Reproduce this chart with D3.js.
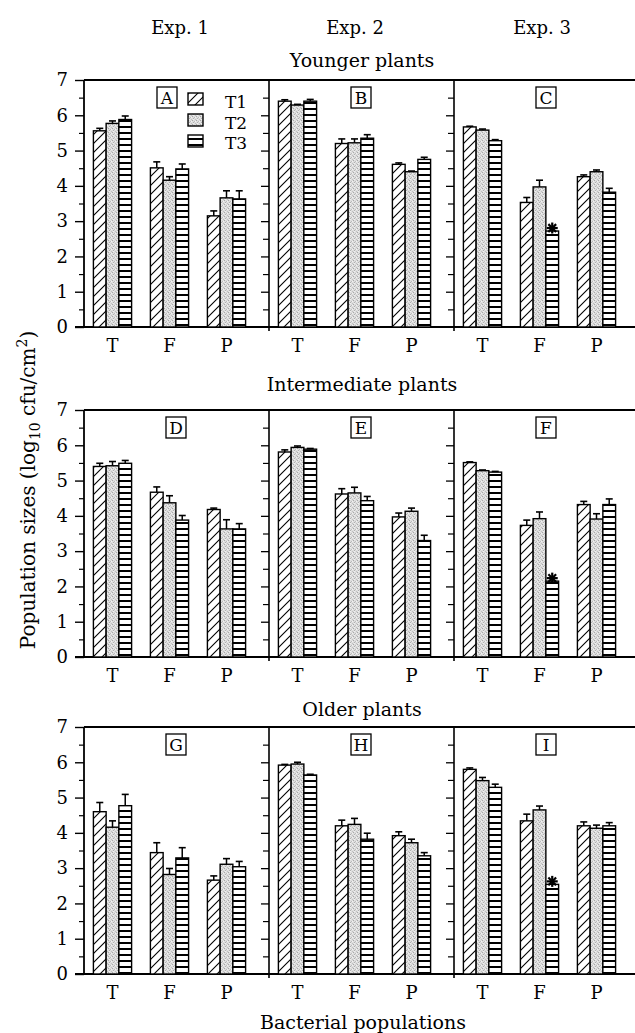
<!DOCTYPE html>
<html><head><meta charset="utf-8">
<script src="https://cdn.jsdelivr.net/npm/d3@7"></script>
<style>body{margin:0;background:#fff}svg{display:block}text{font-family:"DejaVu Serif",serif;fill:#000}</style>
</head><body><svg id="c" width="635" height="1033"></svg>
<script>
// ---------- data ----------
const experiments = ["Exp. 1", "Exp. 2", "Exp. 3"];
const plantAges = ["Younger plants", "Intermediate plants", "Older plants"];
const panelLetters = ["A","B","C","D","E","F","G","H","I"];
const populations = ["T", "F", "P"];
const treatments = ["T1", "T2", "T3"];
const yTickValues = [0,1,2,3,4,5,6,7];
const yMinorValues = [0.5,1.5,2.5,3.5,4.5,5.5,6.5];
// means: rows = populations T,F,P ; columns = treatments T1,T2,T3
const meansA = [[5.56,5.77,5.88],[4.51,4.16,4.48],[3.15,3.66,3.63]];
const meansB = [[6.40,6.29,6.40],[5.20,5.22,5.35],[4.61,4.40,4.75]];
const meansC = [[5.67,5.58,5.28],[3.53,3.97,2.72],[4.26,4.40,3.82]];
const meansD = [[5.40,5.42,5.49],[4.67,4.37,3.88],[4.18,3.63,3.63]];
const meansE = [[5.81,5.94,5.89],[4.62,4.65,4.43],[3.97,4.13,3.30]];
const meansF = [[5.51,5.28,5.24],[3.73,3.92,2.15],[4.32,3.91,4.32]];
const meansG = [[4.60,4.16,4.77],[3.44,2.82,3.29],[2.66,3.11,3.04]];
const meansH = [[5.92,5.95,5.64],[4.20,4.24,3.82],[3.92,3.72,3.35]];
const meansI = [[5.80,5.48,5.29],[4.34,4.65,2.54],[4.20,4.13,4.20]];
// standard errors
const errA = [[0.07,0.07,0.10],[0.17,0.10,0.14],[0.14,0.20,0.23]];
const errB = [[0.04,0.02,0.05],[0.13,0.11,0.10],[0.04,0.02,0.06]];
const errC = [[0.02,0.03,0.03],[0.14,0.19,0.05],[0.05,0.05,0.11]];
const errD = [[0.09,0.12,0.08],[0.15,0.20,0.13],[0.04,0.26,0.15]];
const errE = [[0.06,0.04,0.02],[0.15,0.16,0.12],[0.11,0.09,0.15]];
const errF = [[0.02,0.02,0.02],[0.15,0.19,0.05],[0.09,0.15,0.16]];
const errG = [[0.26,0.18,0.32],[0.28,0.17,0.29],[0.12,0.16,0.15]];
const errH = [[0.02,0.05,0.02],[0.16,0.17,0.17],[0.11,0.10,0.09]];
const errI = [[0.04,0.09,0.09],[0.19,0.11,0.05],[0.11,0.09,0.09]];
// significant differences (asterisk): panel, population, treatment
const significant = [["C","F","T3"],["F","F","T3"],["I","F","T3"]];

const allMeans = [meansA,meansB,meansC,meansD,meansE,meansF,meansG,meansH,meansI];
const allErr = [errA,errB,errC,errD,errE,errF,errG,errH,errI];

// ---------- layout ----------
const svg = d3.select("#c");
const panelLefts = [84, 269, 454];
const rowTops = [80, 410, 727];
const rowH = 247;

const defs = svg.append("defs");
// T1 diagonal hatch
const p1 = defs.append("pattern").attr("id","pT1").attr("patternUnits","userSpaceOnUse")
  .attr("width",9).attr("height",9);
p1.append("rect").attr("width",9).attr("height",9).attr("fill","#fff");
p1.append("path").attr("d","M-1,1 L1,-1 M0,9 L9,0 M8,10 L10,8").attr("stroke","#000").attr("stroke-width",1.1);
// T2 stipple
const p2 = defs.append("pattern").attr("id","pT2").attr("patternUnits","userSpaceOnUse")
  .attr("width",4).attr("height",4);
p2.append("rect").attr("width",4).attr("height",4).attr("fill","#dedede");
[[0,0,"#a8a8a8"],[2,1,"#bcbcbc"],[1,2,"#b0b0b0"],[3,3,"#c0c0c0"],[3,1,"#f2f2f2"],[1,3,"#f0f0f0"]].forEach(([x,y,c])=>
  p2.append("rect").attr("x",x).attr("y",y).attr("width",1).attr("height",1).attr("fill",c));
// T3 horizontal stripes
const p3 = defs.append("pattern").attr("id","pT3").attr("patternUnits","userSpaceOnUse")
  .attr("width",6).attr("height",6);
p3.append("rect").attr("width",6).attr("height",6).attr("fill","#fff");
p3.append("rect").attr("y",0).attr("width",6).attr("height",2).attr("fill","#000");
const fillOf = {T1:"url(#pT1)", T2:"url(#pT2)", T3:"url(#pT3)"};

// Experiment headers
const expX = [180, 355, 542];
experiments.forEach((e,i)=>svg.append("text").attr("x",expX[i]).attr("y",34)
  .attr("text-anchor","middle").attr("font-size",18).text(e));
// age titles
const ageY = [67, 391, 716];
plantAges.forEach((a,i)=>svg.append("text").attr("x",362).attr("y",ageY[i])
  .attr("text-anchor","middle").attr("font-size",19).text(a));

const xGroup = d3.scaleBand().domain(populations).range([0,171]).paddingInner(0.33).paddingOuter(0.165);
const xSub = d3.scaleBand().domain(treatments).range([0, xGroup.bandwidth()]);

rowTops.forEach((top, r) => {
  const y = d3.scaleLinear().domain([0,7]).range([top+rowH, top]);
  const g = svg.append("g");
  // left axis with labels
  const ax = g.append("g").attr("transform",`translate(${panelLefts[0]},0)`)
    .call(d3.axisLeft(y).tickValues(yTickValues).tickSize(9).tickPadding(7).tickFormat(d3.format("d")));
  ax.select(".domain").remove();
  ax.selectAll("text").attr("font-family","DejaVu Serif").attr("font-size",18).attr("fill","#000");
  ax.selectAll("line").attr("stroke","#000").attr("stroke-width",1.4);
  const axm = g.append("g").attr("transform",`translate(${panelLefts[0]},0)`)
    .call(d3.axisLeft(y).tickValues(yMinorValues).tickSize(5).tickFormat(""));
  axm.select(".domain").remove();
  axm.selectAll("line").attr("stroke","#000").attr("stroke-width",1.2);
  // inner boundaries with ticks pointing left
  [panelLefts[1], panelLefts[2]].forEach(bx => {
    const a1 = g.append("g").attr("transform",`translate(${bx},0)`)
      .call(d3.axisLeft(y).tickValues(yTickValues.slice(1,7)).tickSize(8).tickFormat(""));
    a1.select(".domain").remove();
    a1.selectAll("line").attr("stroke","#000").attr("stroke-width",1.3);
    const a2 = g.append("g").attr("transform",`translate(${bx},0)`)
      .call(d3.axisLeft(y).tickValues(yMinorValues).tickSize(6).tickFormat(""));
    a2.select(".domain").remove();
    a2.selectAll("line").attr("stroke","#000").attr("stroke-width",1.2);
    g.append("line").attr("x1",bx).attr("x2",bx).attr("y1",y(7)).attr("y2",y(0)+4)
      .attr("stroke","#000").attr("stroke-width",1.6);
  });
  // frame lines
  g.append("line").attr("x1",panelLefts[0]).attr("x2",panelLefts[0]).attr("y1",y(7)).attr("y2",y(0))
    .attr("stroke","#000").attr("stroke-width",1.8);
  g.append("line").attr("x1",panelLefts[0]).attr("x2",635).attr("y1",y(7)).attr("y2",y(7))
    .attr("stroke","#000").attr("stroke-width",1.8);
  g.append("line").attr("x1",panelLefts[0]-9).attr("x2",635).attr("y1",y(0)).attr("y2",y(0))
    .attr("stroke","#000").attr("stroke-width",1.8);

  panelLefts.forEach((px, c) => {
    const idx = r*3 + c;
    const letter = panelLetters[idx];
    const means = allMeans[idx], errs = allErr[idx];
    const pg = g.append("g").attr("transform",`translate(${px},0)`);
    // x labels
    populations.forEach(pop => pg.append("text").attr("x", xGroup(pop)+xGroup.bandwidth()/2)
      .attr("y", y(0)+25).attr("text-anchor","middle").attr("font-size",18).text(pop));
    // bars
    populations.forEach((pop, pi) => {
      treatments.forEach((tr, ti) => {
        const v = means[pi][ti], e = errs[pi][ti];
        const bx = xGroup(pop) + xSub(tr), bw = xSub.bandwidth();
        pg.append("rect").attr("x",bx).attr("y",y(v)).attr("width",bw).attr("height",y(0)-y(v))
          .attr("fill",fillOf[tr]).attr("stroke","#000").attr("stroke-width",1.4);
        const cx = bx + bw/2;
        const isSig = significant.some(s => s[0]===letter && s[1]===pop && s[2]===tr);
        if (isSig) {
          const cy = y(v) - 3, rr = 5.5;
          [0,45,90,135].forEach(deg => {
            const a = deg*Math.PI/180;
            pg.append("line").attr("x1",cx-rr*Math.cos(a)).attr("y1",cy-rr*Math.sin(a))
              .attr("x2",cx+rr*Math.cos(a)).attr("y2",cy+rr*Math.sin(a))
              .attr("stroke","#000").attr("stroke-width",2.2);
          });
        } else {
          pg.append("line").attr("x1",cx).attr("x2",cx).attr("y1",y(v)).attr("y2",y(v+e))
            .attr("stroke","#000").attr("stroke-width",1.5);
          pg.append("line").attr("x1",cx-3.5).attr("x2",cx+3.5).attr("y1",y(v+e)).attr("y2",y(v+e))
            .attr("stroke","#000").attr("stroke-width",1.6);
        }
      });
    });
    // panel letter box
    const bcx = (idx===0) ? 83 : 92;
    pg.append("rect").attr("x",bcx-10).attr("y",top+7).attr("width",20).attr("height",21)
      .attr("fill","#fff").attr("stroke","#000").attr("stroke-width",1.3);
    pg.append("text").attr("x",bcx).attr("y",top+24).attr("text-anchor","middle")
      .attr("font-size",17).text(letter);
    // legend in panel A
    if (idx===0) {
      treatments.forEach((tr, ti) => {
        pg.append("rect").attr("x",104).attr("y",top+13+ti*21).attr("width",15).attr("height",12)
          .attr("fill",fillOf[tr]).attr("stroke","#000").attr("stroke-width",1.4);
        pg.append("text").attr("x",141).attr("y",top+28+ti*20.5).attr("font-size",17).text(tr);
      });
    }
  });
});

// y-axis title
const yt = svg.append("text").attr("transform","translate(35,490) rotate(-90)")
  .attr("text-anchor","middle").attr("font-size",20);
yt.append("tspan").text("Population sizes (log");
yt.append("tspan").attr("dy",5).attr("font-size",14).text("10");
yt.append("tspan").attr("dy",-5).text(" cfu/cm");
yt.append("tspan").attr("dy",-8).attr("font-size",14).text("2");
yt.append("tspan").attr("dy",8).text(")");

// x-axis title
svg.append("text").attr("x",363).attr("y",1029).attr("text-anchor","middle")
  .attr("font-size",19).text("Bacterial populations");
</script></body></html>
